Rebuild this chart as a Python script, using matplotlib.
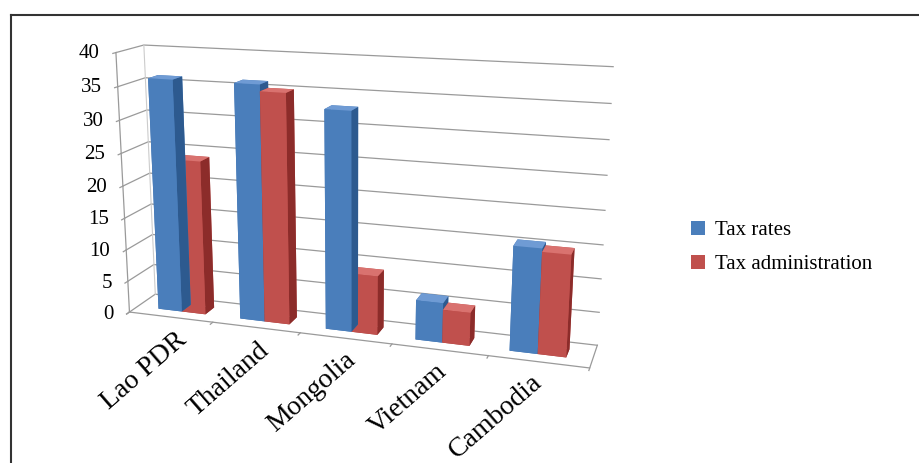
import numpy as np
import matplotlib.pyplot as plt
from matplotlib.patches import Patch
from matplotlib.lines import Line2D
from mpl_toolkits.mplot3d import proj3d

countries = ['Lao PDR', 'Thailand', 'Mongolia', 'Vietnam', 'Cambodia']
tax_rates = [36, 36, 33, 6, 15.5]
tax_admin = [24, 35, 9, 5, 15]
z_ticks = [0, 5, 10, 15, 20, 25, 30, 35, 40]

# face colours for bar3d: bottom, top, front, back, left, right
blue = ['#3a6fb0', '#6f9bd4', '#4a7ebb', '#4a7ebb', '#3a6fb0', '#2d5a8f']
red = ['#a33d3a', '#d9726f', '#c0504d', '#c0504d', '#a33d3a', '#8c2c2a']

plt.rcParams['font.family'] = ['Liberation Serif', 'DejaVu Serif']

fig = plt.figure(figsize=(9.2, 4.63), dpi=100)
ax = fig.add_axes([0.077, -0.036, 0.6, 1.184], projection='3d')
ax.set_proj_type('persp', focal_length=0.4)
ax.view_init(elev=15, azim=-72)

x0, x1 = -0.55, 4.55
y0, y1 = 0.0, 1.0
yf = 0.05  # front edge of the floor and side wall
ax.set_xlim(x0, x1)
ax.set_ylim(y0, y1)
ax.set_zlim(0, 40)
ax.set_box_aspect((5.43, 0.7, 3.1))
ax.set_axis_off()

# walls, floor and gridlines
gc = '#9a9a9a'
for z in z_ticks:
    ax.plot([x0, x0, x1], [yf, y1, y1], [z, z, z], color=gc, lw=0.9)
ax.plot([x0, x0], [yf, yf], [0, 40], color=gc, lw=0.9)
ax.plot([x0, x1, x1], [yf, yf, y1], [0, 0, 0], color=gc, lw=0.9)
ax.plot([x0, x0], [y1, y1], [0, 40], color='#cccccc', lw=0.8)
for i in range(len(countries) + 1):
    xt = x0 + i * (x1 - x0) / len(countries)
    ax.plot([xt, xt], [yf, yf - 0.1], [0, 0], color=gc, lw=0.9)
for z in z_ticks:
    ax.plot([x0, x0], [yf, yf - 0.1], [z, z], color=gc, lw=0.9)

# bars
xs = np.arange(len(countries))
w = 0.29
d = 0.35
yb = 0.35
for i in range(len(countries)):
    ax.bar3d(xs[i] - w, yb, 0, w, d, tax_rates[i], color=blue, shade=False)
    ax.bar3d(xs[i], yb, 0, w, d, tax_admin[i], color=red, shade=False)

M = ax.get_proj()


def to2d(x, y, z):
    px, py, _ = proj3d.proj_transform(x, y, z, M)
    return px, py


for z in z_ticks:
    ax.annotate(str(z), xy=to2d(x0, yf - 0.1, z), xycoords='data',
                xytext=(-13, 0), textcoords='offset pixels',
                ha='right', va='center', fontsize=15, annotation_clip=False)

for i, c in enumerate(countries):
    ax.annotate(c, xy=to2d(xs[i], yb, 0), xycoords='data',
                xytext=(-7, -16), textcoords='offset pixels',
                ha='right', va='top', rotation=41, rotation_mode='anchor',
                fontsize=20, annotation_clip=False)

handles = [Patch(facecolor='#4a7ebb'), Patch(facecolor='#c0504d')]
fig.legend(handles, ['Tax rates', 'Tax administration'], loc='center left',
           bbox_to_anchor=(0.731, 0.465), frameon=False, fontsize=15,
           handlelength=0.65, handleheight=0.65, labelspacing=0.7,
           handletextpad=0.5)

# outer frame (top and left edges)
fig.add_artist(Line2D([0.012, 1.0], [0.967, 0.967], color='#333333', lw=1.5,
                      transform=fig.transFigure))
fig.add_artist(Line2D([0.012, 0.012], [0.0, 0.967], color='#333333', lw=1.5,
                      transform=fig.transFigure))

fig.savefig('out.png', dpi=100)
